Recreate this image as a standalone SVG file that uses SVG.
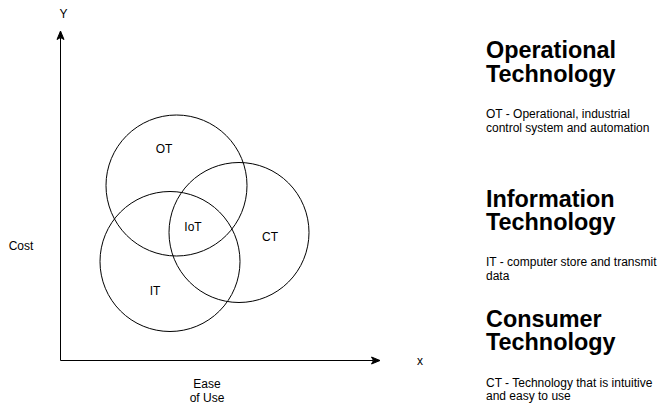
<svg xmlns="http://www.w3.org/2000/svg" width="671" height="419" viewBox="0 0 671 419">
<style>
text{font-family:"Liberation Sans",Arial,Helvetica,sans-serif;fill:#000}
.s{font-size:12px}
.c{text-anchor:middle}
.h{font-size:23.4px;font-weight:bold}
.circ{fill:none;stroke:#000;stroke-width:1}
.ax{stroke:#000;stroke-width:1;fill:none}
.ah{fill:#000;stroke:#000;stroke-width:1}
</style>
<rect width="671" height="419" fill="#fff"/>
<g id="connectors">
<path class="ax" d="M60.5 360.5 V38"/>
<path class="ah" d="M60.5 31 L64 39.5 L60.5 37.5 L57 39.5 Z"/>
<path class="ax" d="M60.5 360.5 H373"/>
<path class="ah" d="M380 360.5 L371.5 364 L373.5 360.5 L371.5 357 Z"/>
</g>
<g id="axis-y-label"><text class="s c" x="63.5" y="18">Y</text></g>
<g id="axis-x-label"><text class="s c" x="420" y="365">x</text></g>
<g id="cost-label"><text class="s c" x="21" y="250">Cost</text></g>
<g id="ease-label"><text class="s c" x="207" y="388">Ease</text><text class="s c" x="207" y="402">of Use</text></g>
<g id="ot-circle"><circle class="circ" cx="176.5" cy="185.5" r="70.5"/><text class="s c" x="164" y="153">OT</text></g>
<g id="ct-circle"><circle class="circ" cx="239" cy="232.5" r="70"/><text class="s c" x="270" y="241">CT</text></g>
<g id="it-circle"><circle class="circ" cx="170" cy="261.5" r="70"/><text class="s c" x="155" y="295">IT</text></g>
<g id="iot-label"><text class="s c" x="193" y="231">IoT</text></g>
<g id="ot-text">
<text class="h" x="486" y="58">Operational</text>
<text class="h" x="486" y="81.5">Technology</text>
<text class="s" x="486" y="118">OT - Operational, industrial</text>
<text class="s" x="486" y="132">control system and automation</text>
</g>
<g id="it-text">
<text class="h" x="486" y="206.5">Information</text>
<text class="h" x="486" y="230">Technology</text>
<text class="s" x="486" y="266">IT - computer store and transmit</text>
<text class="s" x="486" y="280">data</text>
</g>
<g id="ct-text">
<text class="h" x="486" y="326.5">Consumer</text>
<text class="h" x="486" y="350">Technology</text>
<text class="s" x="486" y="386.5">CT - Technology that is intuitive</text>
<text class="s" x="486" y="400">and easy to use</text>
</g>
</svg>
